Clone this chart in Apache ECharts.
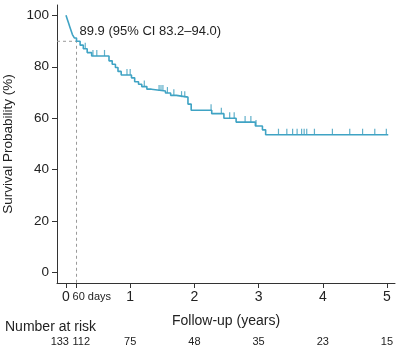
<!DOCTYPE html>
<html>
<head>
<meta charset="utf-8">
<script src="https://cdn.jsdelivr.net/npm/echarts@6/dist/echarts.min.js"></script>
<style>
  html, body { margin: 0; padding: 0; background: #fff; }
  #chart { width: 402px; height: 351px; }
</style>
</head>
<body>
<div id="chart"></div>
<script>
// KM step times (years) and survival (%) after each event
const eventTimes = [0, 0.02, 0.04, 0.06, 0.08, 0.10, 0.13, 0.164, 0.22, 0.27, 0.33, 0.40, 0.67, 0.72, 0.77, 0.81, 0.86,
  1.02, 1.07, 1.13, 1.18, 1.26, 1.33, 1.55, 1.63, 1.72, 1.90, 1.95, 2.27, 2.46, 2.65, 2.95, 3.06, 3.11, 5.02];
const survival = [100, 98.5, 97, 95.5, 94, 92.5, 91.2, 89.9, 88.4, 87, 85.5, 84.2, 82.3, 81, 79.7, 78.2, 76.8,
  75.7, 74.2, 73.2, 72.3, 71.3, 70.6, 69.8, 68.9, 68.2, 65.5, 63.1, 61.8, 60, 58.5, 57, 55.5, 53.6, 53.6];
// censoring marks (years)
const censorTimes = [0.30, 0.42, 0.48, 0.60, 0.95, 1.00, 1.22, 1.45, 1.48, 1.51, 1.58, 1.68, 1.80, 1.85,
  2.26, 2.42, 2.55, 2.62, 2.79, 2.88, 2.96, 3.31, 3.44, 3.53, 3.60, 3.67, 3.71, 3.75, 3.87, 4.15, 4.42, 4.62, 4.81, 4.99];
// number at risk
const riskTimes = [0, 0.164, 1, 2, 3, 4, 5];
const riskCounts = [133, 112, 75, 48, 35, 23, 15];
const yTicks = [0, 20, 40, 60, 80, 100];
const xTicks = [0, 0.164, 1, 2, 3, 4, 5];
const xLabels = [0, 1, 2, 3, 4, 5];
const landmarkTime = 0.164;
const landmarkValue = 89.9;

function survAt(t) {
  let s = survival[0];
  for (let i = 0; i < eventTimes.length; i++) {
    if (eventTimes[i] <= t) s = survival[i];
  }
  return s;
}

const FONT = "Liberation Sans, Arial, sans-serif";
const chart = echarts.init(document.getElementById("chart"));

chart.setOption({
  animation: false,
  textStyle: { fontFamily: FONT },
  grid: { left: 57, right: 7, top: 5, bottom: 68, outerBoundsMode: "none", containLabel: false },
  xAxis: {
    type: "value",
    min: -0.14,
    max: 5.125,
    splitLine: { show: false },
    axisLine: { onZero: false, lineStyle: { color: "#333", width: 1 } },
    axisTick: { customValues: xTicks, length: 5, lineStyle: { color: "#333" } },
    axisLabel: { customValues: xLabels, color: "#222", fontSize: 14, margin: 7 },
    name: "Follow-up (years)",
    nameLocation: "middle",
    nameGap: 31,
    nameTextStyle: { color: "#222", fontSize: 14 }
  },
  yAxis: {
    type: "value",
    min: -4,
    max: 104,
    splitLine: { show: false },
    axisLine: { show: true, onZero: false, lineStyle: { color: "#333", width: 1 } },
    axisTick: { show: true, customValues: yTicks, length: 5, lineStyle: { color: "#333" } },
    axisLabel: { customValues: yTicks, color: "#222", fontSize: 13.5, margin: 8 },
    name: "Survival Probability (%)",
    nameLocation: "middle",
    nameGap: 35,
    nameTextStyle: { color: "#222", fontSize: 13.5 }
  },
  series: [
    {
      type: "line",
      data: [[-0.14, landmarkValue], [landmarkTime, landmarkValue], [landmarkTime, -4]],
      symbol: "none",
      lineStyle: { color: "#999", width: 1, type: [3, 3] },
      silent: true
    },
    {
      type: "line",
      step: "end",
      data: eventTimes.map((t, i) => [t, survival[i]]),
      symbol: "none",
      lineStyle: { color: "#3fa3c4", width: 1.6 }
    },
    {
      type: "scatter",
      data: censorTimes.map(t => [t, survAt(t)]),
      symbol: "rect",
      symbolSize: [1.2, 6],
      symbolOffset: [0, -3],
      itemStyle: { color: "#3a9cbd" }
    }
  ]
});

// text annotations placed through the axis scales
const graphics = [];
const ann = chart.convertToPixel({ seriesIndex: 1 }, [landmarkTime, landmarkValue]);
graphics.push({
  type: "text", x: ann[0] + 3, y: ann[1] - 10,
  style: { text: "89.9 (95% CI 83.2\u201394.0)", fill: "#222", font: "13px " + FONT, textVerticalAlign: "middle" }
});
const axisY = chart.convertToPixel({ yAxisIndex: 0 }, -4);
const lm = chart.convertToPixel({ xAxisIndex: 0 }, landmarkTime);
graphics.push({
  type: "text", x: lm - 4, y: axisY + 14,
  style: { text: "60 days", fill: "#222", font: "11px " + FONT, textVerticalAlign: "middle" }
});
graphics.push({
  type: "text", x: 5, y: 327,
  style: { text: "Number at risk", fill: "#222", font: "14px " + FONT, textVerticalAlign: "middle" }
});
riskTimes.forEach((t, i) => {
  let px = chart.convertToPixel({ xAxisIndex: 0 }, t);
  let align = "center";
  if (i === 0) { px += 3; align = "right"; }
  if (i === 1) { px -= 4; align = "left"; }
  graphics.push({
    type: "text", x: px, y: 342,
    style: { text: String(riskCounts[i]), fill: "#222", font: "11px " + FONT, textAlign: align, textVerticalAlign: "middle" }
  });
});
chart.setOption({ graphic: graphics });
</script>
</body>
</html>
